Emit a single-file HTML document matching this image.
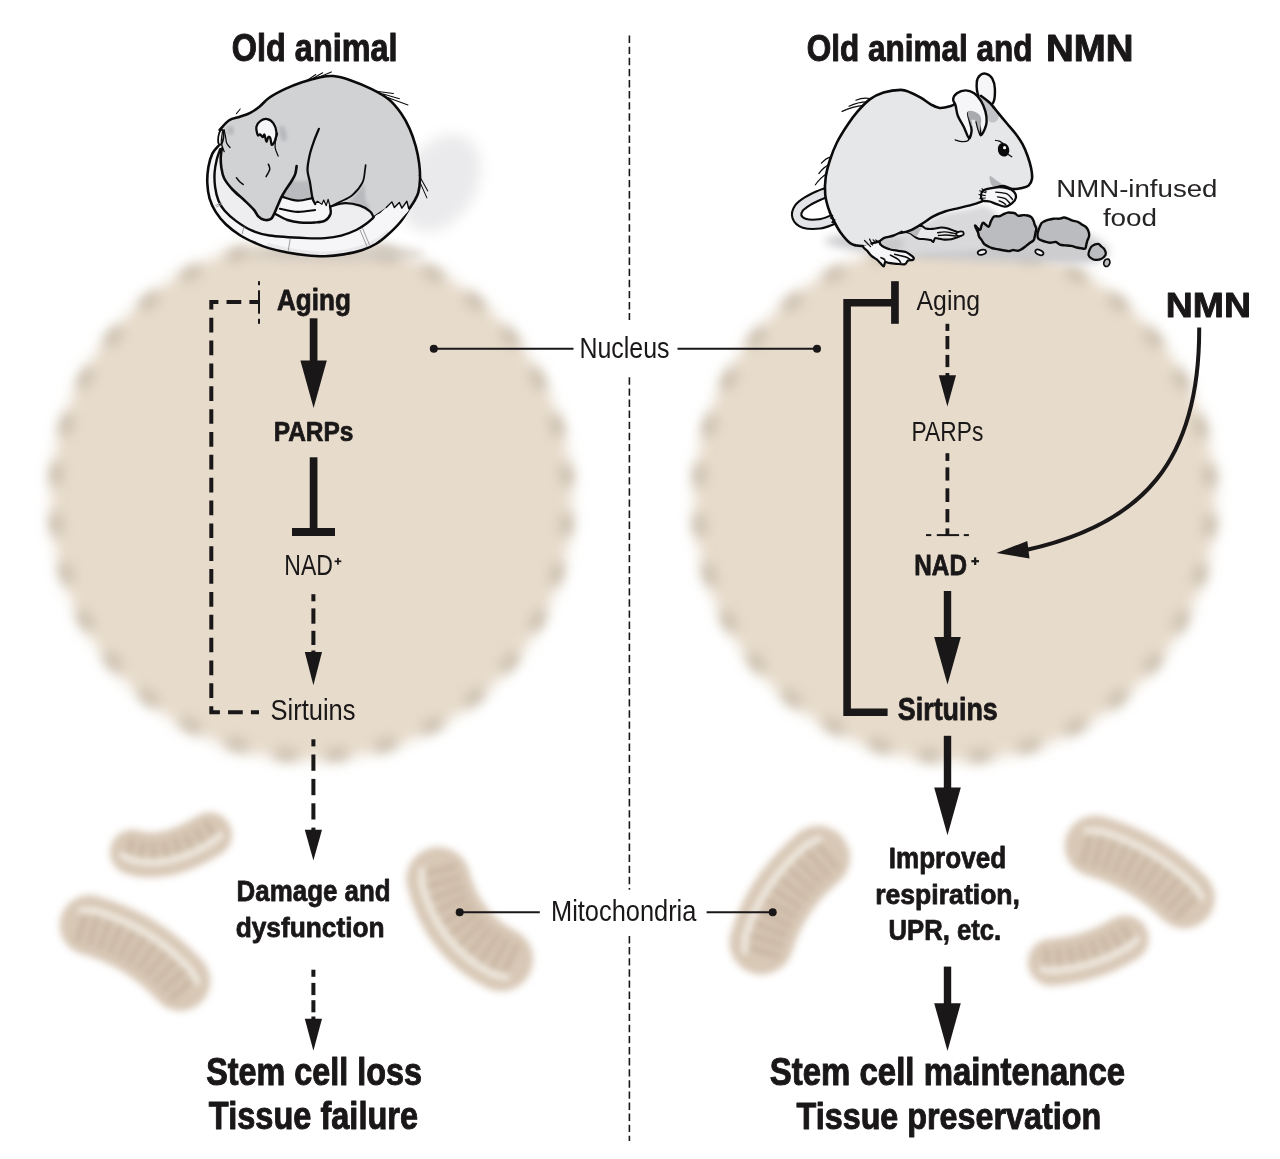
<!DOCTYPE html>
<html><head><meta charset="utf-8"><title>NMN diagram</title>
<style>
html,body{margin:0;padding:0;background:#fff;}
svg text{opacity:0.999} svg{display:block;font-family:"Liberation Sans",sans-serif;}
</style></head><body>
<svg width="1280" height="1159" viewBox="0 0 1280 1159">
<rect width="1280" height="1159" fill="#fff"/>
<defs>
<filter id="b8" filterUnits="userSpaceOnUse" x="0" y="0" width="1280" height="1159"><feGaussianBlur stdDeviation="7"/></filter>
<filter id="b5" filterUnits="userSpaceOnUse" x="0" y="0" width="1280" height="1159"><feGaussianBlur stdDeviation="5"/></filter>
<filter id="b3" filterUnits="userSpaceOnUse" x="0" y="0" width="1280" height="1159"><feGaussianBlur stdDeviation="3"/></filter>
<filter id="b2" filterUnits="userSpaceOnUse" x="0" y="0" width="1280" height="1159"><feGaussianBlur stdDeviation="2.2"/></filter>
<filter id="b12" filterUnits="userSpaceOnUse" x="0" y="0" width="1280" height="1159"><feGaussianBlur stdDeviation="9"/></filter>
<filter id="bm" filterUnits="userSpaceOnUse" x="-2000" y="-2000" width="6000" height="6000"><feGaussianBlur stdDeviation="40"/></filter>
<filter id="bs" filterUnits="userSpaceOnUse" x="-2000" y="-2000" width="6000" height="6000"><feGaussianBlur stdDeviation="10"/></filter>
<filter id="b4" filterUnits="userSpaceOnUse" x="0" y="0" width="1280" height="1159"><feGaussianBlur stdDeviation="3.8"/></filter>
<filter id="b7" filterUnits="userSpaceOnUse" x="0" y="0" width="1280" height="1159"><feGaussianBlur stdDeviation="6.5"/></filter>
</defs>
<circle cx="311.4" cy="499.5" r="260.5" fill="#e7dbcb" filter="url(#b8)"/>
<circle cx="311.4" cy="499.5" r="256.5" fill="none" stroke="#c5b9a8" stroke-width="11" stroke-dasharray="22 28.364" stroke-dashoffset="36.182" filter="url(#b7)"/>
<circle cx="954.7" cy="500.5" r="260.5" fill="#e7dbcb" filter="url(#b8)"/>
<circle cx="954.7" cy="500.5" r="256.5" fill="none" stroke="#c5b9a8" stroke-width="11" stroke-dasharray="22 28.364" stroke-dashoffset="36.182" filter="url(#b7)"/>
<path d="M132.5 852.2 Q165.8 862.5 209.5 834.8" fill="none" stroke="#d8c8b6" stroke-width="45" stroke-linecap="round" filter="url(#b4)"/>
<path d="M127.8 855.3L132.1 841.3M140.6 858.7L142.9 843.8M154.1 859.4L153.6 844.4M167.4 857.8L164.4 843.1M180.2 854.3L175.3 840.1M192.4 849.4L186.1 835.8M203.9 843.4L196.6 830.4M214.9 836.6L207.1 824.3" fill="none" stroke="#c8b6a2" stroke-width="6" stroke-linecap="round" filter="url(#b3)"/>
<path d="M122.2 855.3 L130.2 859.3 L131.5 859.7 L132.7 860.1 L134.0 860.4 L135.3 860.7 L136.6 861.0 L137.8 861.2 L139.1 861.5 L140.4 861.7 L141.7 861.8 L143.0 862.0 L144.3 862.1 L145.6 862.3 L147.0 862.3 L148.3 862.4 L149.6 862.5 L150.9 862.5 L152.3 862.5 L153.6 862.4 L155.0 862.4 L156.3 862.3 L157.7 862.2 L159.0 862.1 L160.4 862.0 L161.8 861.8 L163.1 861.6 L164.5 861.4 L165.9 861.2 L167.3 860.9 L168.7 860.6 L170.0 860.3 L171.4 860.0 L172.8 859.6 L174.2 859.3 L175.6 858.9 L177.1 858.5 L178.5 858.0 L179.9 857.6 L181.3 857.1 L182.7 856.6 L184.2 856.1 L185.6 855.5 L187.0 855.0 L188.5 854.4 L189.9 853.8 L191.3 853.2 L192.8 852.5 L194.3 851.8 L195.7 851.1 L197.2 850.4 L198.6 849.7 L200.1 848.9 L201.6 848.1 L203.1 847.3 L204.6 846.5 L206.0 845.7 L207.5 844.8 L209.0 843.9 L210.5 843.0 L212.0 842.1 L213.5 841.2 L220.3 835.1" fill="none" stroke="#f0eae1" stroke-width="7" stroke-linecap="round" stroke-linejoin="round" filter="url(#b3)"/>
<path d="M89.7 925.1 Q143.8 940.4 180.3 980.9" fill="none" stroke="#d8c8b6" stroke-width="60" stroke-linecap="round" filter="url(#b4)"/>
<path d="M86.0 912.2L78.2 939.6M98.2 915.0L89.3 943.7M110.4 919.2L99.8 947.3M122.4 924.1L110.1 951.5M134.0 929.8L120.0 956.4M145.3 936.3L129.6 961.8M156.2 943.4L138.8 967.9M166.5 951.3L147.6 974.6M176.3 959.8L155.9 981.8M185.5 968.9L163.8 989.6M193.5 978.6L172.3 997.7" fill="none" stroke="#c8b6a2" stroke-width="6" stroke-linecap="round" filter="url(#b3)"/>
<path d="M81.5 910.3 L93.8 910.6 L95.7 911.2 L97.6 911.7 L99.5 912.3 L101.4 912.9 L103.3 913.5 L105.2 914.2 L107.1 914.8 L108.9 915.5 L110.8 916.2 L112.6 916.9 L114.4 917.6 L116.2 918.3 L118.1 919.0 L119.9 919.8 L121.6 920.5 L123.4 921.3 L125.2 922.1 L126.9 922.9 L128.7 923.8 L130.4 924.6 L132.2 925.5 L133.9 926.4 L135.6 927.3 L137.3 928.2 L139.0 929.1 L140.7 930.0 L142.3 931.0 L144.0 932.0 L145.6 932.9 L147.3 933.9 L148.9 934.9 L150.5 936.0 L152.1 937.0 L153.7 938.1 L155.3 939.2 L156.9 940.3 L158.4 941.4 L160.0 942.5 L161.5 943.6 L163.1 944.8 L164.6 945.9 L166.1 947.1 L167.6 948.3 L169.1 949.5 L170.6 950.7 L172.0 952.0 L173.5 953.2 L175.0 954.5 L176.4 955.8 L177.8 957.1 L179.2 958.4 L180.6 959.7 L182.0 961.1 L183.4 962.5 L184.8 963.8 L186.1 965.2 L187.5 966.6 L188.8 968.0 L190.1 969.5 L191.4 970.9 L197.2 981.8" fill="none" stroke="#f0eae1" stroke-width="7" stroke-linecap="round" stroke-linejoin="round" filter="url(#b3)"/>
<path d="M438.3 879.1 Q452.5 934.8 501.1 959.3" fill="none" stroke="#d8c8b6" stroke-width="64" stroke-linecap="round" filter="url(#b4)"/>
<path d="M423.5 874.6L454.6 866.7M425.9 886.9L458.6 877.7M430.0 899.5L461.9 887.6M435.3 911.9L465.9 897.0M441.8 923.7L470.8 905.9M449.5 934.9L476.4 914.1M458.5 945.3L482.9 921.7M468.4 954.6L490.2 928.5M479.3 962.7L498.3 934.5M490.8 969.7L507.0 939.8M502.3 974.7L516.8 946.0" fill="none" stroke="#c8b6a2" stroke-width="6" stroke-linecap="round" filter="url(#b3)"/>
<path d="M422.0 870.2 L421.8 883.3 L422.3 885.4 L422.9 887.4 L423.5 889.4 L424.1 891.4 L424.7 893.4 L425.4 895.4 L426.0 897.3 L426.7 899.3 L427.4 901.2 L428.2 903.1 L428.9 905.0 L429.7 906.8 L430.5 908.7 L431.3 910.5 L432.2 912.3 L433.1 914.1 L434.0 915.9 L434.9 917.7 L435.8 919.4 L436.8 921.2 L437.8 922.9 L438.8 924.6 L439.8 926.3 L440.9 927.9 L442.0 929.6 L443.1 931.2 L444.2 932.8 L445.4 934.4 L446.5 935.9 L447.7 937.5 L448.9 939.0 L450.2 940.5 L451.4 942.0 L452.7 943.5 L454.0 944.9 L455.4 946.4 L456.7 947.8 L458.1 949.2 L459.5 950.5 L460.9 951.9 L462.3 953.2 L463.8 954.5 L465.3 955.8 L466.8 957.1 L468.3 958.3 L469.8 959.5 L471.4 960.7 L473.0 961.9 L474.6 963.1 L476.2 964.2 L477.8 965.3 L479.5 966.4 L481.2 967.5 L482.9 968.6 L484.6 969.6 L486.3 970.6 L488.1 971.6 L489.9 972.6 L491.7 973.5 L493.5 974.5 L506.3 977.1" fill="none" stroke="#f0eae1" stroke-width="7" stroke-linecap="round" stroke-linejoin="round" filter="url(#b3)"/>
<path d="M818.0 857.7 Q775.8 893.1 761.5 942.5" fill="none" stroke="#d8c8b6" stroke-width="64" stroke-linecap="round" filter="url(#b4)"/>
<path d="M815.7 842.4L836.3 866.9M805.9 849.6L828.2 875.3M796.5 858.3L820.3 882.6M787.6 867.6L812.9 890.3M779.3 877.5L806.1 898.5M771.7 888.0L799.9 907.0M764.8 899.0L794.3 916.0M758.8 910.5L789.4 925.3M753.6 922.4L785.2 934.9M749.2 934.6L781.7 944.8M746.5 946.6L777.3 955.6" fill="none" stroke="#c8b6a2" stroke-width="6" stroke-linecap="round" filter="url(#b3)"/>
<path d="M819.0 839.1 L807.1 844.6 L805.6 845.9 L804.1 847.2 L802.6 848.5 L801.1 849.8 L799.7 851.1 L798.3 852.5 L796.8 853.8 L795.4 855.2 L794.1 856.5 L792.7 857.9 L791.3 859.3 L790.0 860.6 L788.7 862.0 L787.4 863.4 L786.1 864.9 L784.8 866.3 L783.5 867.7 L782.3 869.1 L781.1 870.6 L779.9 872.1 L778.7 873.5 L777.5 875.0 L776.3 876.5 L775.2 878.0 L774.0 879.5 L772.9 881.0 L771.8 882.5 L770.8 884.1 L769.7 885.6 L768.7 887.2 L767.6 888.7 L766.6 890.3 L765.6 891.9 L764.6 893.5 L763.7 895.1 L762.7 896.7 L761.8 898.3 L760.9 899.9 L760.0 901.6 L759.1 903.2 L758.3 904.8 L757.4 906.5 L756.6 908.2 L755.8 909.9 L755.0 911.5 L754.2 913.2 L753.4 914.9 L752.7 916.6 L752.0 918.4 L751.3 920.1 L750.6 921.8 L749.9 923.6 L749.3 925.3 L748.6 927.1 L748.0 928.8 L747.4 930.6 L746.8 932.4 L746.2 934.2 L745.7 936.0 L745.1 937.8 L744.9 950.9" fill="none" stroke="#f0eae1" stroke-width="7" stroke-linecap="round" stroke-linejoin="round" filter="url(#b3)"/>
<path d="M1095.2 846.0 Q1145.1 859.8 1184.3 898.0" fill="none" stroke="#d8c8b6" stroke-width="61" stroke-linecap="round" filter="url(#b4)"/>
<path d="M1091.2 832.6L1083.4 860.9M1103.1 835.3L1094.2 865.0M1115.1 839.3L1104.4 868.4M1126.9 844.0L1114.4 872.4M1138.3 849.4L1124.2 877.0M1149.4 855.5L1133.7 882.2M1160.1 862.3L1142.8 888.0M1170.4 869.6L1151.7 894.3M1180.2 877.4L1160.2 901.1M1189.6 885.8L1168.4 908.4M1197.9 894.7L1177.4 915.7" fill="none" stroke="#c8b6a2" stroke-width="6" stroke-linecap="round" filter="url(#b3)"/>
<path d="M1086.9 830.8 L1099.4 831.1 L1101.1 831.6 L1102.9 832.1 L1104.7 832.6 L1106.5 833.2 L1108.2 833.7 L1110.0 834.3 L1111.7 834.9 L1113.5 835.5 L1115.2 836.1 L1116.9 836.8 L1118.7 837.4 L1120.4 838.1 L1122.1 838.7 L1123.8 839.4 L1125.5 840.1 L1127.2 840.9 L1128.9 841.6 L1130.6 842.4 L1132.2 843.1 L1133.9 843.9 L1135.6 844.7 L1137.2 845.5 L1138.9 846.3 L1140.5 847.2 L1142.1 848.0 L1143.8 848.9 L1145.4 849.8 L1147.0 850.7 L1148.6 851.6 L1150.2 852.5 L1151.8 853.5 L1153.4 854.4 L1155.0 855.4 L1156.6 856.4 L1158.1 857.4 L1159.7 858.4 L1161.2 859.4 L1162.8 860.4 L1164.3 861.5 L1165.9 862.6 L1167.4 863.6 L1168.9 864.7 L1170.4 865.9 L1171.9 867.0 L1173.4 868.1 L1174.9 869.3 L1176.4 870.4 L1177.9 871.6 L1179.4 872.8 L1180.8 874.0 L1182.3 875.3 L1183.7 876.5 L1185.2 877.7 L1186.6 879.0 L1188.0 880.3 L1189.5 881.6 L1190.9 882.9 L1192.3 884.2 L1193.7 885.5 L1195.1 886.9 L1201.6 897.5" fill="none" stroke="#f0eae1" stroke-width="7" stroke-linecap="round" stroke-linejoin="round" filter="url(#b3)"/>
<path d="M1051.3 962.2 Q1090.1 960.0 1125.3 938.7" fill="none" stroke="#d8c8b6" stroke-width="47" stroke-linecap="round" filter="url(#b4)"/>
<path d="M1047.5 967.8L1046.5 951.3M1060.1 967.0L1058.2 950.1M1072.8 965.0L1069.6 948.4M1085.3 962.1L1080.7 945.7M1097.5 958.2L1091.7 942.2M1109.3 953.3L1102.3 937.9M1120.8 947.6L1112.7 932.7M1131.6 941.1L1123.1 927.0" fill="none" stroke="#c8b6a2" stroke-width="6" stroke-linecap="round" filter="url(#b3)"/>
<path d="M1042.4 969.5 L1051.8 970.7 L1053.2 970.6 L1054.5 970.5 L1055.9 970.4 L1057.2 970.3 L1058.6 970.1 L1059.9 970.0 L1061.3 969.9 L1062.6 969.7 L1064.0 969.5 L1065.3 969.3 L1066.7 969.1 L1068.0 968.9 L1069.4 968.7 L1070.7 968.5 L1072.0 968.2 L1073.4 968.0 L1074.7 967.7 L1076.0 967.5 L1077.3 967.2 L1078.7 966.9 L1080.0 966.6 L1081.3 966.2 L1082.6 965.9 L1083.9 965.6 L1085.2 965.2 L1086.6 964.9 L1087.9 964.5 L1089.2 964.1 L1090.5 963.7 L1091.8 963.3 L1093.1 962.9 L1094.4 962.5 L1095.7 962.0 L1097.0 961.6 L1098.2 961.1 L1099.5 960.6 L1100.8 960.1 L1102.1 959.6 L1103.4 959.1 L1104.7 958.6 L1105.9 958.1 L1107.2 957.6 L1108.5 957.0 L1109.7 956.4 L1111.0 955.9 L1112.3 955.3 L1113.5 954.7 L1114.8 954.1 L1116.0 953.5 L1117.3 952.8 L1118.5 952.2 L1119.8 951.6 L1121.0 950.9 L1122.3 950.2 L1123.5 949.5 L1124.8 948.9 L1126.0 948.2 L1127.2 947.4 L1128.5 946.7 L1129.7 946.0 L1136.8 939.7" fill="none" stroke="#f0eae1" stroke-width="7" stroke-linecap="round" stroke-linejoin="round" filter="url(#b3)"/>
<ellipse cx="440" cy="183" rx="36" ry="52" fill="#eaeaec" filter="url(#b8)" transform="rotate(30 440 183)"/>
<ellipse cx="335" cy="254" rx="90" ry="9" fill="#cfc8bf" filter="url(#b5)" opacity="0.7"/>
<g transform="translate(195 65) scale(0.17256)" stroke-linecap="round" stroke-linejoin="round">
<path d="M136.2 468.1C130.2 475.7 110.2 493.0 100.5 513.6C90.7 534.2 82.6 563.4 77.7 591.6C72.9 619.7 70.1 652.2 71.2 682.5C72.3 712.9 76.1 745.3 84.2 773.5C92.3 801.6 104.3 826.5 120.0 851.5C135.7 876.4 154.6 900.2 178.4 922.9C202.3 945.7 233.7 969.5 262.9 987.9C292.1 1006.3 326.4 1021.1 353.9 1033.4C381.3 1045.6 397.0 1052.4 427.4 1061.2C457.7 1070.1 499.8 1079.7 536.0 1086.6C572.2 1093.5 608.5 1098.9 644.7 1102.5C680.9 1106.2 717.1 1109.2 753.3 1108.3C789.6 1107.5 825.8 1103.5 862.0 1097.5C898.2 1091.4 939.3 1082.4 970.7 1072.1C1002.1 1061.9 1026.2 1050.4 1050.3 1035.9C1074.5 1021.4 1092.6 1005.7 1115.5 985.2C1138.5 964.7 1166.2 939.3 1188.0 912.7C1209.7 886.2 1236.3 840.3 1245.9 825.8L1108 826L600 600L200 450Z" fill="#eeeef0" stroke="none"/>
<path d="M136.2 468.1C130.2 475.7 110.2 493.0 100.5 513.6C90.7 534.2 82.6 563.4 77.7 591.6C72.9 619.7 70.1 652.2 71.2 682.5C72.3 712.9 76.1 745.3 84.2 773.5C92.3 801.6 104.3 826.5 120.0 851.5C135.7 876.4 154.6 900.2 178.4 922.9C202.3 945.7 233.7 969.5 262.9 987.9C292.1 1006.3 326.4 1021.1 353.9 1033.4C381.3 1045.6 397.0 1052.4 427.4 1061.2C457.7 1070.1 499.8 1079.7 536.0 1086.6C572.2 1093.5 608.5 1098.9 644.7 1102.5C680.9 1106.2 717.1 1109.2 753.3 1108.3C789.6 1107.5 825.8 1103.5 862.0 1097.5C898.2 1091.4 939.3 1082.4 970.7 1072.1C1002.1 1061.9 1026.2 1050.4 1050.3 1035.9C1074.5 1021.4 1092.6 1005.7 1115.5 985.2C1138.5 964.7 1166.2 939.3 1188.0 912.7C1209.7 886.2 1236.3 840.3 1245.9 825.8L1108.3 825.8C1104.7 828.2 1097.4 831.9 1086.6 840.3C1075.7 848.8 1058.8 863.2 1043.1 876.5C1027.4 889.8 1010.5 906.7 992.4 920.0C974.3 933.3 958.6 944.7 934.4 956.2C910.3 967.7 877.7 981.0 847.5 988.8C817.3 996.7 787.1 1000.9 753.3 1003.3C719.5 1005.7 698.3 1005.9 644.7 1003.3C591.1 1000.7 484.6 995.3 431.8 987.9C379.0 980.5 360.3 972.7 327.9 958.7C295.4 944.6 262.9 922.4 236.9 903.4C210.9 884.5 188.7 864.4 171.9 845.0C155.2 825.5 145.4 809.2 136.2 786.5C127.0 763.7 120.5 735.6 116.7 708.5C112.9 681.4 111.8 651.1 113.5 624.1C115.1 597.0 121.0 568.8 126.5 546.1C131.9 523.4 142.7 497.4 145.9 487.6Z" fill="#f6f6f8" stroke="none"/>
<path d="M427.4 1043.1C445.5 1047.6 499.8 1062.7 536.0 1069.9C572.2 1077.2 608.5 1082.9 644.7 1086.6C680.9 1090.3 717.1 1093.4 753.3 1092.4C789.6 1091.4 825.8 1087.2 862.0 1080.8C898.2 1074.4 939.3 1064.5 970.7 1054.0C1002.1 1043.5 1026.2 1031.9 1050.3 1017.8C1074.5 1003.7 1104.7 977.3 1115.5 969.3" fill="none" stroke="#e9e9ec" stroke-width="22"/>
<path d="M136.2 468.1C130.2 475.7 110.2 493.0 100.5 513.6C90.7 534.2 82.6 563.4 77.7 591.6C72.9 619.7 70.1 652.2 71.2 682.5C72.3 712.9 76.1 745.3 84.2 773.5C92.3 801.6 104.3 826.5 120.0 851.5C135.7 876.4 154.6 900.2 178.4 922.9C202.3 945.7 233.7 969.5 262.9 987.9C292.1 1006.3 326.4 1021.1 353.9 1033.4C381.3 1045.6 397.0 1052.4 427.4 1061.2C457.7 1070.1 499.8 1079.7 536.0 1086.6C572.2 1093.5 608.5 1098.9 644.7 1102.5C680.9 1106.2 717.1 1109.2 753.3 1108.3C789.6 1107.5 825.8 1103.5 862.0 1097.5C898.2 1091.4 939.3 1082.4 970.7 1072.1C1002.1 1061.9 1026.2 1050.4 1050.3 1035.9C1074.5 1021.4 1092.6 1005.7 1115.5 985.2C1138.5 964.7 1166.2 939.3 1188.0 912.7C1209.7 886.2 1236.3 840.3 1245.9 825.8" fill="none" stroke="#0c0b0b" stroke-width="15"/>
<path d="M145.9 487.6C142.7 497.4 131.9 523.4 126.5 546.1C121.0 568.8 115.1 597.0 113.5 624.1C111.8 651.1 112.9 681.4 116.7 708.5C120.5 735.6 127.0 763.7 136.2 786.5C145.4 809.2 155.2 825.5 171.9 845.0C188.7 864.4 210.9 884.5 236.9 903.4C262.9 922.4 295.4 944.6 327.9 958.7C360.3 972.7 379.0 980.5 431.8 987.9C484.6 995.3 591.1 1000.7 644.7 1003.3C698.3 1005.9 719.5 1005.7 753.3 1003.3C787.1 1000.9 817.3 996.7 847.5 988.8C877.7 981.0 910.3 967.7 934.4 956.2C958.6 944.7 974.3 933.3 992.4 920.0C1010.5 906.7 1027.4 889.8 1043.1 876.5C1058.8 863.2 1075.7 848.8 1086.6 840.3C1097.4 831.9 1104.7 828.2 1108.3 825.8" fill="none" stroke="#0c0b0b" stroke-width="14"/>
<path d="M120 814L151 798" stroke="#8d8d90" stroke-width="5" fill="none"/>
<path d="M126 822L156 807" stroke="#8d8d90" stroke-width="5" fill="none"/>
<path d="M284 939L273 978" stroke="#8d8d90" stroke-width="5" fill="none"/>
<path d="M551 1011L540 1079" stroke="#8d8d90" stroke-width="5" fill="none"/>
<path d="M956 955L996 1050" stroke="#8d8d90" stroke-width="5" fill="none"/>
<path d="M972 948L1011 1042" stroke="#8d8d90" stroke-width="5" fill="none"/>
<path d="M143.0 376.0C152.2 366.7 178.5 332.7 198.0 320.0C217.5 307.3 239.7 307.0 260.0 300.0C280.3 293.0 300.8 288.0 320.0 278.0C339.2 268.0 356.7 254.7 375.0 240.0C393.3 225.3 405.8 206.7 430.0 190.0C454.2 173.3 488.3 155.0 520.0 140.0C551.7 125.0 586.7 111.3 620.0 100.0C653.3 88.7 690.0 78.0 720.0 72.0C750.0 66.0 770.0 61.3 800.0 64.0C830.0 66.7 862.7 75.3 900.0 88.0C937.3 100.7 986.7 121.3 1024.0 140.0C1061.3 158.7 1095.7 176.7 1124.0 200.0C1152.3 223.3 1174.0 251.7 1194.0 280.0C1214.0 308.3 1229.8 338.3 1244.0 370.0C1258.2 401.7 1269.8 436.7 1279.0 470.0C1288.2 503.3 1294.8 538.3 1299.0 570.0C1303.2 601.7 1304.8 631.7 1304.0 660.0C1303.2 688.3 1299.7 718.3 1294.0 740.0C1288.3 761.7 1278.0 775.7 1270.0 790.0C1262.0 804.3 1250.0 820.0 1246.0 826.0L1238.7 833.1L1227.8 789.6L1198.8 829.4L1184.4 796.8L1155.4 825.8L1140.9 793.2L1108.3 825.8L1032.2 876.5C1029.2 871.7 1026.8 857.8 1014.1 847.6C1001.4 837.3 980.3 822.8 956.2 815.0C932.0 807.1 897.0 799.9 869.2 800.5C841.5 801.1 802.8 815.6 789.6 818.6L782.3 818.6L771.5 778.7L760.6 815.0L746.1 782.4L735.2 807.7L709.9 789.6L695.4 804.1L680.9 771.5C678.5 756.4 671.2 708.1 666.4 680.9C661.6 653.8 654.3 620.6 651.9 608.5L586.7 608.5C581.9 620.6 571.0 655.0 557.8 680.9C544.5 706.9 522.7 735.3 507.0 764.2C491.3 793.2 472.0 836.1 463.6 854.8C455.1 873.5 464.8 869.3 456.3 876.5C447.9 883.8 428.6 897.1 412.9 898.3C397.2 899.5 377.9 897.1 362.2 883.8C346.5 870.5 325.9 829.4 318.7 818.6L366.8 877.4C362.5 870.9 353.9 853.6 340.9 838.5C327.9 823.3 309.5 806.0 288.9 786.5C268.3 767.0 237.4 743.2 217.4 721.5C197.4 699.9 179.5 678.2 168.7 656.5C157.9 634.9 155.7 612.1 152.4 591.6C149.2 571.0 148.7 551.0 149.2 533.1C149.7 515.2 154.6 492.5 155.7 484.4Z" fill="#d1d2d4" stroke="none"/>
<path d="M594.0 565.0C587.9 584.4 572.2 647.7 557.8 680.9C543.3 714.1 515.5 750.4 507.0 764.2L507.0 764.2C521.5 767.9 565.0 784.8 594.0 786.0C622.9 787.2 666.4 773.9 680.9 771.5L680.9 771.5C678.5 756.4 671.8 715.3 666.4 680.9C661.0 646.5 651.3 584.4 648.3 565.0Z" fill="#b9babd" stroke="none"/>
<path d="M572.2 550.5C589.1 533.6 642.3 533.6 659.2 550.5C676.1 567.5 682.1 631.4 673.7 652.0C665.2 672.5 627.8 673.7 608.5 673.7C589.1 673.7 563.8 672.5 557.8 652.0C551.7 631.4 555.3 567.5 572.2 550.5Z" fill="#d1d2d4" stroke="none" filter="url(#bs)"/>
<path d="M941.7 738.9C955.6 721.7 973.7 689.4 981.5 695.4C989.4 701.5 983.3 751.0 988.8 775.1C994.2 799.3 1019.6 833.7 1014.1 840.3C1008.7 846.9 975.5 822.0 956.2 815.0C936.9 808.0 900.6 811.0 898.2 798.3C895.8 785.6 927.8 756.0 941.7 738.9Z" fill="#b9babd" stroke="none" filter="url(#bs)"/>
<path d="M507.0 764.2C521.5 767.9 565.0 784.8 594.0 786.0C622.9 787.2 666.4 773.9 680.9 771.5L695.4 804.1L695.4 840.3L695.4 840.3C678.5 842.1 627.8 852.4 594.0 851.2C560.2 850.0 509.5 836.1 492.6 833.1Z" fill="#f6f6f8" stroke="none"/>
<path d="M492.6 833.1C509.5 836.1 560.2 850.0 594.0 851.2C627.8 852.4 678.5 842.1 695.4 840.3L695.4 804.1L709.9 789.6L735.2 807.7L746.1 782.4L760.6 815.0L771.5 778.7L782.3 818.6L782.3 818.6C782.9 825.8 790.8 848.2 785.9 862.0C781.1 875.9 768.4 893.4 753.3 901.9C738.2 910.3 719.5 910.9 695.4 912.7C671.2 914.6 635.0 915.2 608.5 912.7C581.9 910.3 560.2 906.7 536.0 898.3C511.9 889.8 475.7 868.1 463.6 862.0Z" fill="#f6f6f8" stroke="none"/>
<path d="M1238.7 833.1L1227.8 789.6L1198.8 829.4L1184.4 796.8L1155.4 825.8L1140.9 793.2L1108.3 825.8L1072.1 858.4C1067.2 861.7 1046.7 868.9 1043.1 878.0C1039.5 887.0 1038.3 900.9 1050.3 912.7C1062.4 924.6 1092.6 951.4 1115.5 949.0C1138.5 946.6 1166.9 916.6 1188.0 898.3C1209.1 879.9 1233.3 848.8 1242.3 838.9Z" fill="#f6f6f8" stroke="none"/>
<ellipse cx="510" cy="397" rx="22" ry="48" fill="#b9babd" transform="rotate(-12 510 397)" filter="url(#bs)"/>
<ellipse cx="206" cy="380" rx="20" ry="26" fill="#b9babd" filter="url(#bs)"/>
<path d="M143.0 376.0C152.2 366.7 178.5 332.7 198.0 320.0C217.5 307.3 239.7 307.0 260.0 300.0C280.3 293.0 300.8 288.0 320.0 278.0C339.2 268.0 356.7 254.7 375.0 240.0C393.3 225.3 405.8 206.7 430.0 190.0C454.2 173.3 488.3 155.0 520.0 140.0C551.7 125.0 586.7 111.3 620.0 100.0C653.3 88.7 690.0 78.0 720.0 72.0C750.0 66.0 770.0 61.3 800.0 64.0C830.0 66.7 862.7 75.3 900.0 88.0C937.3 100.7 986.7 121.3 1024.0 140.0C1061.3 158.7 1095.7 176.7 1124.0 200.0C1152.3 223.3 1174.0 251.7 1194.0 280.0C1214.0 308.3 1229.8 338.3 1244.0 370.0C1258.2 401.7 1269.8 436.7 1279.0 470.0C1288.2 503.3 1294.8 538.3 1299.0 570.0C1303.2 601.7 1304.8 631.7 1304.0 660.0C1303.2 688.3 1299.7 718.3 1294.0 740.0C1288.3 761.7 1278.0 775.7 1270.0 790.0C1262.0 804.3 1250.0 820.0 1246.0 826.0" fill="none" stroke="#0c0b0b" stroke-width="15"/>
<path d="M1238.7 833.1L1227.8 789.6L1198.8 829.4L1184.4 796.8L1155.4 825.8L1140.9 793.2L1108.3 825.8" fill="none" stroke="#0c0b0b" stroke-width="8"/>
<path d="M789.6 818.6C802.8 815.6 841.5 801.1 869.2 800.5C897.0 799.9 932.0 807.1 956.2 815.0C980.3 822.8 1001.4 837.3 1014.1 847.6C1026.8 857.8 1029.2 871.7 1032.2 876.5" fill="none" stroke="#0c0b0b" stroke-width="13"/>
<path d="M782.3 818.6L771.5 778.7L760.6 815.0L746.1 782.4L735.2 807.7L709.9 789.6L695.4 804.1" fill="none" stroke="#0c0b0b" stroke-width="7"/>
<path d="M507.0 764.2C521.5 767.9 565.0 784.8 594.0 786.0C622.9 787.2 666.4 773.9 680.9 771.5" fill="none" stroke="#0c0b0b" stroke-width="13"/>
<path d="M492.6 833.1C509.5 836.1 560.2 850.0 594.0 851.2C627.8 852.4 678.5 842.1 695.4 840.3" fill="none" stroke="#0c0b0b" stroke-width="13"/>
<path d="M463.6 862.0C475.7 868.1 511.9 889.8 536.0 898.3C560.2 906.7 581.9 910.3 608.5 912.7C635.0 915.2 671.2 914.6 695.4 912.7C719.5 910.9 738.2 910.3 753.3 901.9C768.4 893.4 781.1 875.9 785.9 862.0C790.8 848.2 782.9 825.8 782.3 818.6" fill="none" stroke="#0c0b0b" stroke-width="14"/>
<path d="M718.0 370.0C713.3 381.7 698.8 415.0 690.0 440.0C681.2 465.0 671.3 491.9 665.0 520.0C658.7 548.1 651.7 581.7 651.9 608.5C652.2 635.3 661.6 653.8 666.4 680.9C671.2 708.1 675.8 750.7 680.9 771.5C686.0 792.3 694.2 799.9 696.8 805.5" fill="none" stroke="#0c0b0b" stroke-width="13"/>
<path d="M155.7 484.4C154.6 492.5 149.7 515.2 149.2 533.1C148.7 551.0 149.2 571.0 152.4 591.6C155.7 612.1 157.9 634.9 168.7 656.5C179.5 678.2 197.4 699.9 217.4 721.5C237.4 743.2 268.3 767.0 288.9 786.5C309.5 806.0 327.9 823.3 340.9 838.5C353.9 853.6 357.1 867.7 366.8 877.4C376.6 887.2 387.4 894.2 399.3 896.9C411.2 899.6 428.6 899.1 438.3 893.7C448.1 888.3 451.3 876.9 457.8 864.4C464.3 852.0 470.3 835.2 477.3 819.0C484.3 802.7 492.5 782.2 500.0 767.0C507.6 751.8 512.5 744.3 522.8 728.0C533.1 711.8 552.0 685.8 561.8 669.5C571.5 653.3 576.7 644.6 581.2 630.6C585.8 616.5 587.7 592.7 589.0 585.1" fill="none" stroke="#0c0b0b" stroke-width="15"/>
<path d="M988.8 579.5C988.2 584.4 988.2 591.6 985.1 608.5C982.1 625.4 982.7 656.8 970.7 680.9C958.6 705.1 934.4 734.7 912.7 753.4C891.0 772.1 860.8 782.4 840.3 793.2C819.7 804.1 798.0 814.4 789.6 818.6" fill="none" stroke="#0c0b0b" stroke-width="10"/>
<path d="M363.6 406.4C360.1 399.0 353.1 371.4 355.8 357.7C358.5 343.9 369.3 331.3 379.8 323.9C390.3 316.5 406.4 311.1 418.8 313.5C431.3 315.9 445.7 325.4 454.6 338.2C463.4 351.0 470.7 373.4 472.1 390.2C473.5 407.0 467.5 426.8 463.0 438.9C458.5 451.0 449.1 465.1 444.8 462.9C440.5 460.8 440.3 433.7 437.0 425.9C433.8 418.1 429.2 413.2 425.3 416.2C421.4 419.1 417.4 445.6 413.6 443.4C409.8 441.3 406.0 407.5 402.6 403.2C399.1 398.8 397.2 417.7 392.8 417.5C388.5 417.2 381.5 403.7 376.6 401.9C371.7 400.0 367.1 413.8 363.6 406.4Z" fill="#f6f6f8" stroke="#0c0b0b" stroke-width="13"/>
<path d="M478.6 396.7C476.4 405.3 467.8 434.0 465.6 448.6C463.4 463.3 462.9 471.2 465.6 484.4C468.3 497.6 479.1 520.6 481.8 527.9" fill="none" stroke="#0c0b0b" stroke-width="7"/>
<ellipse cx="150" cy="419" rx="15" ry="44" fill="#f6f6f8" stroke="#0c0b0b" stroke-width="10" transform="rotate(8 150 419)"/>
<path d="M168.7 373.9C170.1 381.0 174.6 403.2 177.1 416.2C179.6 429.1 179.3 441.4 183.6 451.9C188.0 462.4 199.9 474.6 203.1 479.2" fill="none" stroke="#0c0b0b" stroke-width="7"/>
<path d="M160.9 377.2C159.5 389.1 151.0 427.8 152.4 448.6C153.9 469.4 166.5 493.0 169.3 501.9" fill="none" stroke="#0c0b0b" stroke-width="7"/>
<path d="M425.3 575.3C426.6 580.2 435.3 592.7 433.1 604.6C430.9 616.5 415.8 639.8 412.3 646.8" fill="none" stroke="#0c0b0b" stroke-width="9"/>
<path d="M240.2 653.3C243.1 656.9 251.2 668.2 257.7 674.7C264.2 681.2 275.6 689.4 279.1 692.3" fill="none" stroke="#0c0b0b" stroke-width="9"/>
<path d="M240 282L262 255" stroke="#0c0b0b" stroke-width="6" fill="none"/>
<path d="M640 95L700 55" stroke="#0c0b0b" stroke-width="6" fill="none"/>
<path d="M665 88L740 45" stroke="#0c0b0b" stroke-width="6" fill="none"/>
<path d="M690 82L790 40" stroke="#0c0b0b" stroke-width="6" fill="none"/>
<path d="M1050 152L1150 165" stroke="#0c0b0b" stroke-width="6" fill="none"/>
<path d="M1090 168L1185 195" stroke="#0c0b0b" stroke-width="6" fill="none"/>
<path d="M1120 190L1234 232" stroke="#0c0b0b" stroke-width="6" fill="none"/>
<path d="M1299 640L1349 730" stroke="#0c0b0b" stroke-width="6" fill="none"/>
<path d="M1304 680L1344 770" stroke="#0c0b0b" stroke-width="6" fill="none"/>
</g>
<ellipse cx="962" cy="248" rx="138" ry="12" fill="#c8c8cb" filter="url(#b5)" transform="rotate(3 962 248)"/>
<ellipse cx="1060" cy="243" rx="50" ry="16" fill="#cdcdd0" filter="url(#b5)" transform="rotate(12 1060 243)"/>
<path d="M905 232 L940 214 L985 205 L1000 215 L985 232 L985 250 L900 255Z" fill="#d9d9dc" filter="url(#b3)"/>
<g transform="translate(780 70) scale(0.17256)" stroke-linecap="round" stroke-linejoin="round">
<path d="M305.0 868.0C292.5 872.0 257.5 888.7 230.0 892.0C202.5 895.3 162.0 895.0 140.0 888.0C118.0 881.0 103.0 864.7 98.0 850.0C93.0 835.3 99.7 815.0 110.0 800.0C120.3 785.0 140.0 772.5 160.0 760.0C180.0 747.5 210.8 733.7 230.0 725.0C249.2 716.3 267.5 710.8 275.0 708.0" fill="none" stroke="#0c0b0b" stroke-width="66"/>
<path d="M305.0 868.0C292.5 872.0 257.5 888.7 230.0 892.0C202.5 895.3 162.0 895.0 140.0 888.0C118.0 881.0 103.0 864.7 98.0 850.0C93.0 835.3 99.7 815.0 110.0 800.0C120.3 785.0 140.0 772.5 160.0 760.0C180.0 747.5 210.8 733.7 230.0 725.0C249.2 716.3 267.5 710.8 275.0 708.0" fill="none" stroke="#e3e4e7" stroke-width="42"/>
<path d="M1150.4 150.0C1141.2 128.3 1138.7 90.0 1140.4 70.0C1142.1 50.0 1151.2 38.0 1160.4 30.0C1169.6 22.0 1183.7 18.7 1195.4 22.0C1207.1 25.3 1222.1 35.3 1230.4 50.0C1238.7 64.7 1244.6 86.7 1245.4 110.0C1246.2 133.3 1243.7 175.0 1235.4 190.0C1227.1 205.0 1209.6 206.7 1195.4 200.0C1181.2 193.3 1159.6 171.7 1150.4 150.0Z" fill="#f6f6f8" stroke="#0c0b0b" stroke-width="14"/>
<path d="M480.3 1020.2C477.0 1026.9 498.6 1040.0 505.2 1047.6C511.9 1055.2 522.8 1070.8 530.1 1077.5C537.5 1084.1 553.4 1092.1 560.0 1097.4C566.7 1102.7 574.5 1111.9 580.0 1117.3C585.4 1122.8 596.9 1138.9 600.9 1138.2C604.9 1137.6 606.0 1115.0 609.8 1112.3C613.7 1109.7 621.1 1116.9 629.8 1118.3C638.4 1119.8 662.0 1122.4 674.6 1123.3C687.2 1124.2 715.4 1127.9 724.4 1125.3C733.3 1122.6 735.8 1106.7 741.8 1103.4C747.8 1100.1 764.7 1102.2 769.2 1100.4C773.6 1098.6 775.8 1093.0 775.2 1089.9C774.5 1086.9 770.3 1082.1 764.2 1077.5C758.1 1072.8 740.0 1059.1 729.3 1055.1C718.7 1051.1 696.5 1049.6 684.5 1047.6C672.6 1045.6 650.3 1042.8 639.7 1040.1C629.1 1037.5 612.8 1032.0 604.8 1027.7C596.9 1023.4 583.9 1012.4 580.0 1007.8C576.0 1003.1 581.6 994.1 575.0 992.8C568.3 991.5 542.8 994.1 530.1 997.8C517.5 1001.5 483.7 1013.6 480.3 1020.2Z" fill="#f6f6f8" stroke="#0c0b0b" stroke-width="13"/>
<path d="M639.7 1072.5C647.2 1076.7 674.6 1089.9 684.5 1097.4C694.5 1104.9 697.0 1114.0 699.5 1117.3" stroke="#0c0b0b" stroke-width="9" fill="none"/>
<path d="M664.6 1067.5C674.6 1070.0 709.4 1077.5 724.4 1082.5C739.3 1087.4 749.3 1094.9 754.2 1097.4" stroke="#0c0b0b" stroke-width="9" fill="none"/>
<path d="M584.9 1087.4C588.2 1089.1 600.7 1093.2 604.8 1097.4C609.0 1101.6 609.0 1109.9 609.8 1112.3" stroke="#0c0b0b" stroke-width="9" fill="none"/>
<path d="M729.3 935.6C728.0 940.5 746.9 941.2 754.2 945.5C761.6 949.8 777.5 963.6 784.1 967.9C790.8 972.2 796.1 976.2 804.0 977.9C812.0 979.5 834.6 979.4 843.9 980.4C853.2 981.4 867.8 983.2 873.8 985.4C879.7 987.5 885.4 998.3 888.7 996.8C892.0 995.3 894.0 976.4 898.7 973.9C903.3 971.4 916.3 976.7 923.6 977.9C930.9 979.1 944.2 982.5 953.4 982.9C962.7 983.2 983.3 982.2 993.3 980.4C1003.2 978.5 1020.2 972.0 1028.2 968.9C1036.1 965.8 1050.7 960.1 1053.0 957.0C1055.4 953.8 1050.9 948.7 1045.6 945.5C1040.3 942.3 1022.8 936.7 1013.2 933.1C1003.6 929.4 984.0 920.8 973.4 918.1C962.7 915.5 945.5 912.8 933.5 913.1C921.6 913.5 895.7 919.9 883.7 920.6C871.8 921.3 852.5 920.4 843.9 918.1C835.3 915.8 829.6 904.5 819.0 903.2C808.4 901.9 776.2 903.8 764.2 908.2C752.3 912.5 730.7 930.6 729.3 935.6Z" fill="#e9e9eb" stroke="#0c0b0b" stroke-width="12"/>
<path d="M739.3 933.1C747.3 928.4 809.7 913.1 819.0 913.1C828.3 913.1 811.7 927.7 809.0 933.1C806.4 938.4 802.1 948.7 799.1 953.0C796.1 957.3 791.9 966.1 786.6 965.4C781.3 964.8 765.5 952.3 759.2 948.0C752.9 943.7 731.3 937.7 739.3 933.1Z" fill="#b9babd" stroke="none"/>
<path d="M913.6 943.0C920.2 942.2 938.5 937.6 953.4 938.0C968.4 938.5 990.0 943.0 1003.2 945.5C1016.5 948.0 1028.2 951.7 1033.1 953.0" stroke="#0c0b0b" stroke-width="8" fill="none"/>
<path d="M918.6 959.0C926.1 958.5 946.8 955.5 963.4 956.0C980.0 956.5 1009.1 960.9 1018.2 961.9" stroke="#0c0b0b" stroke-width="8" fill="none"/>
<path d="M480.3 1020.2C474.5 1019.8 457.9 1020.6 445.5 1017.7C433.0 1014.8 421.6 1015.7 405.6 1002.8C389.7 989.8 365.9 962.1 350.0 940.0C334.1 917.9 321.7 893.3 310.0 870.0C298.3 846.7 288.0 825.0 280.0 800.0C272.0 775.0 264.5 750.0 262.0 720.0C259.5 690.0 260.3 653.3 265.0 620.0C269.7 586.7 279.2 553.3 290.0 520.0C300.8 486.7 313.3 453.3 330.0 420.0C346.7 386.7 370.0 350.0 390.0 320.0C410.0 290.0 428.3 265.0 450.0 240.0C471.7 215.0 495.0 188.3 520.0 170.0C545.0 151.7 570.0 139.2 600.0 130.0C630.0 120.8 674.1 115.0 700.0 115.0C725.9 115.0 736.2 122.5 755.4 130.0C774.6 137.5 795.4 148.3 815.4 160.0C835.4 171.7 857.1 190.0 875.4 200.0C893.7 210.0 907.1 218.3 925.4 220.0C943.7 221.7 968.7 215.0 985.4 210.0C1002.1 205.0 1018.7 193.3 1025.4 190.0L1165.4 150.0C1173.7 156.7 1198.7 173.3 1215.4 190.0C1232.1 206.7 1248.7 230.0 1265.4 250.0C1282.1 270.0 1298.7 290.0 1315.4 310.0C1332.1 330.0 1350.4 350.0 1365.4 370.0C1380.4 390.0 1393.7 408.3 1405.4 430.0C1417.1 451.7 1427.1 476.7 1435.4 500.0C1443.7 523.3 1451.2 548.3 1455.4 570.0C1459.6 591.7 1462.9 613.3 1460.4 630.0C1457.9 646.7 1451.2 660.8 1440.4 670.0C1429.6 679.2 1411.2 681.7 1395.4 685.0C1379.6 688.3 1353.7 689.2 1345.4 690.0L1295.4 672.0C1288.7 673.3 1268.7 675.3 1255.4 680.0C1242.1 684.7 1222.1 696.7 1215.4 700.0L1175.4 760.0C1165.4 763.3 1138.7 773.3 1115.4 780.0C1092.1 786.7 1062.1 793.3 1035.4 800.0C1008.7 806.7 980.4 811.7 955.4 820.0C930.4 828.3 907.1 838.3 885.4 850.0C863.7 861.7 847.1 876.7 825.4 890.0C803.7 903.3 777.1 920.8 755.4 930.0C733.7 939.2 703.9 943.7 695.4 945.0C686.9 946.3 711.2 935.5 704.5 938.0C697.7 940.6 671.2 954.6 654.6 960.5C638.0 966.3 618.1 967.5 604.8 972.9C591.6 978.3 587.4 987.4 575.0 992.8C562.5 998.2 537.6 1003.2 530.1 1005.3Z" fill="#e6e7e9" stroke="none"/>
<path d="M1165.4 160.0C1170.4 152.5 1198.7 179.2 1215.4 195.0C1232.1 210.8 1258.7 238.3 1265.4 255.0C1272.1 271.7 1263.7 287.5 1255.4 295.0C1247.1 302.5 1227.1 309.2 1215.4 300.0C1203.7 290.8 1193.7 263.3 1185.4 240.0C1177.1 216.7 1160.4 167.5 1165.4 160.0Z" fill="#c3c4c7" stroke="none"/>
<path d="M1215.4 615.0C1219.6 609.7 1243.7 631.7 1255.4 640.0C1267.1 648.3 1289.6 659.7 1285.4 665.0C1281.2 670.3 1242.1 680.3 1230.4 672.0C1218.7 663.7 1211.2 620.3 1215.4 615.0Z" fill="#b3b4b7" stroke="none"/>
<path d="M480.3 1020.2C474.5 1019.8 457.9 1020.6 445.5 1017.7C433.0 1014.8 421.6 1015.7 405.6 1002.8C389.7 989.8 365.9 962.1 350.0 940.0C334.1 917.9 321.7 893.3 310.0 870.0C298.3 846.7 288.0 825.0 280.0 800.0C272.0 775.0 264.5 750.0 262.0 720.0C259.5 690.0 260.3 653.3 265.0 620.0C269.7 586.7 279.2 553.3 290.0 520.0C300.8 486.7 313.3 453.3 330.0 420.0C346.7 386.7 370.0 350.0 390.0 320.0C410.0 290.0 428.3 265.0 450.0 240.0C471.7 215.0 495.0 188.3 520.0 170.0C545.0 151.7 570.0 139.2 600.0 130.0C630.0 120.8 674.1 115.0 700.0 115.0C725.9 115.0 736.2 122.5 755.4 130.0C774.6 137.5 795.4 148.3 815.4 160.0C835.4 171.7 857.1 190.0 875.4 200.0C893.7 210.0 907.1 218.3 925.4 220.0C943.7 221.7 968.7 215.0 985.4 210.0C1002.1 205.0 1018.7 193.3 1025.4 190.0" fill="none" stroke="#0c0b0b" stroke-width="15"/>
<path d="M1165.4 150.0C1173.7 156.7 1198.7 173.3 1215.4 190.0C1232.1 206.7 1248.7 230.0 1265.4 250.0C1282.1 270.0 1298.7 290.0 1315.4 310.0C1332.1 330.0 1350.4 350.0 1365.4 370.0C1380.4 390.0 1393.7 408.3 1405.4 430.0C1417.1 451.7 1427.1 476.7 1435.4 500.0C1443.7 523.3 1451.2 548.3 1455.4 570.0C1459.6 591.7 1462.9 613.3 1460.4 630.0C1457.9 646.7 1451.2 660.8 1440.4 670.0C1429.6 679.2 1411.2 681.7 1395.4 685.0C1379.6 688.3 1362.1 692.2 1345.4 690.0C1328.7 687.8 1310.4 673.7 1295.4 672.0C1280.4 670.3 1268.7 675.3 1255.4 680.0C1242.1 684.7 1222.1 696.7 1215.4 700.0" fill="none" stroke="#0c0b0b" stroke-width="15"/>
<path d="M1175.4 760.0C1165.4 763.3 1138.7 773.3 1115.4 780.0C1092.1 786.7 1062.1 793.3 1035.4 800.0C1008.7 806.7 980.4 811.7 955.4 820.0C930.4 828.3 907.1 838.3 885.4 850.0C863.7 861.7 847.1 876.7 825.4 890.0C803.7 903.3 777.1 920.8 755.4 930.0C733.7 939.2 703.9 943.7 695.4 945.0C686.9 946.3 711.2 935.5 704.5 938.0C697.7 940.6 671.2 954.6 654.6 960.5C638.0 966.3 618.1 967.5 604.8 972.9C591.6 978.3 587.4 987.4 575.0 992.8C562.5 998.2 537.6 1003.2 530.1 1005.3" fill="none" stroke="#0c0b0b" stroke-width="14"/>
<path d="M490 988L525 1024" stroke="#0c0b0b" stroke-width="7" fill="none"/>
<path d="M519 980L536 1014" stroke="#0c0b0b" stroke-width="7" fill="none"/>
<path d="M540 984L555 1000" stroke="#0c0b0b" stroke-width="7" fill="none"/>
<path d="M555 985L568 995" stroke="#0c0b0b" stroke-width="7" fill="none"/>
<path d="M285.0 828.0L305.0 845.0L292.0 858.0L318.0 868.0L300.0 882.0L322.0 892.0" fill="none" stroke="#0c0b0b" stroke-width="7"/>
<path d="M1017.4 205.0C1012.9 189.2 1002.1 181.7 1003.4 170.0C1004.7 158.3 1013.4 143.7 1025.4 135.0C1037.4 126.3 1058.7 118.0 1075.4 118.0C1092.1 118.0 1110.4 124.7 1125.4 135.0C1140.4 145.3 1154.6 162.5 1165.4 180.0C1176.2 197.5 1185.1 220.0 1190.4 240.0C1195.7 260.0 1198.2 282.5 1197.4 300.0C1196.6 317.5 1191.1 332.0 1185.4 345.0C1179.7 358.0 1168.1 380.5 1163.4 378.0C1158.7 375.5 1160.4 344.7 1157.4 330.0C1154.4 315.3 1151.6 301.3 1145.4 290.0C1139.2 278.7 1129.6 268.7 1120.4 262.0C1111.2 255.3 1093.7 243.7 1090.4 250.0C1087.1 256.3 1097.1 283.3 1100.4 300.0C1103.7 316.7 1111.2 334.2 1110.4 350.0C1109.6 365.8 1102.9 398.3 1095.4 395.0C1087.9 391.7 1076.2 351.7 1065.4 330.0C1054.6 308.3 1038.4 285.8 1030.4 265.0C1022.4 244.2 1021.9 220.8 1017.4 205.0Z" fill="#f6f6f8" stroke="#0c0b0b" stroke-width="14"/>
<path d="M1087.4 248.0C1088.7 231.3 1112.7 236.0 1125.4 240.0C1138.1 244.0 1157.4 256.2 1163.4 272.0C1169.4 287.8 1163.6 319.0 1161.4 335.0C1159.2 351.0 1154.7 373.8 1150.4 368.0C1146.1 362.2 1142.1 313.0 1135.4 300.0C1128.7 287.0 1113.4 283.3 1110.4 290.0C1107.4 296.7 1121.2 347.0 1117.4 340.0C1113.6 333.0 1086.1 264.7 1087.4 248.0Z" fill="#a9aaad" stroke="none"/>
<path d="M1015.4 405.0C1022.1 406.7 1042.9 414.5 1055.4 415.0C1067.9 415.5 1082.1 415.5 1090.4 408.0C1098.7 400.5 1102.9 376.3 1105.4 370.0" fill="none" stroke="#0c0b0b" stroke-width="8"/>
<path d="M1135.4 300.0C1137.1 306.7 1141.7 327.5 1145.4 340.0C1149.1 352.5 1155.4 369.2 1157.4 375.0" fill="none" stroke="#0c0b0b" stroke-width="7"/>
<ellipse cx="1295.4" cy="462" rx="33" ry="40" fill="#0c0b0b" transform="rotate(-15 1295.4 462)"/>
<circle cx="1301.4" cy="450" r="9" fill="#fff"/>
<path d="M1248.4 408.0C1252.1 408.7 1263.4 409.3 1270.4 412.0C1277.4 414.7 1287.1 422.0 1290.4 424.0" fill="none" stroke="#0c0b0b" stroke-width="7"/>
<path d="M1323.4 490.0C1325.4 491.3 1332.1 495.8 1335.4 498.0C1338.7 500.2 1342.1 502.2 1343.4 503.0" fill="none" stroke="#0c0b0b" stroke-width="7"/>
<path d="M1175.4 700.0C1189.6 688.0 1232.1 682.5 1255.4 680.0C1278.7 677.5 1298.7 680.8 1315.4 685.0C1332.1 689.2 1346.7 695.8 1355.4 705.0C1364.1 714.2 1369.1 728.8 1367.4 740.0C1365.7 751.2 1355.7 763.3 1345.4 772.0C1335.1 780.7 1320.4 791.2 1305.4 792.0C1290.4 792.8 1270.4 782.0 1255.4 777.0C1240.4 772.0 1229.6 766.2 1215.4 762.0C1201.2 757.8 1177.1 762.3 1170.4 752.0C1163.7 741.7 1161.2 712.0 1175.4 700.0Z" fill="#f6f6f8" stroke="#0c0b0b" stroke-width="13"/>
<path d="M1250.4 708.0C1261.2 709.7 1299.2 711.0 1315.4 718.0C1331.6 725.0 1342.1 744.7 1347.4 750.0" stroke="#0c0b0b" stroke-width="8" fill="none"/>
<path d="M1260.4 735.0C1267.9 736.7 1293.6 738.8 1305.4 745.0C1317.2 751.2 1327.1 767.5 1331.4 772.0" stroke="#0c0b0b" stroke-width="8" fill="none"/>
<path d="M1270.4 758.0C1274.6 760.0 1289.2 766.3 1295.4 770.0C1301.6 773.7 1305.4 778.3 1307.4 780.0" stroke="#0c0b0b" stroke-width="8" fill="none"/>
<path d="M1157 700L1193 712" stroke="#0c0b0b" stroke-width="6" fill="none"/>
<path d="M1153 722L1190 728" stroke="#0c0b0b" stroke-width="6" fill="none"/>
<path d="M1157 745L1190 742" stroke="#0c0b0b" stroke-width="6" fill="none"/>
<path d="M1170 688L1195 705" stroke="#0c0b0b" stroke-width="6" fill="none"/>
<path d="M520 165Q480.0 158.0 440 175" stroke="#0c0b0b" stroke-width="7" fill="none"/>
<path d="M505 185Q452.5 185.5 400 210" stroke="#0c0b0b" stroke-width="7" fill="none"/>
<path d="M485 205Q422.5 210.5 360 240" stroke="#0c0b0b" stroke-width="7" fill="none"/>
<path d="M292 505Q266.0 510.5 240 540" stroke="#0c0b0b" stroke-width="7" fill="none"/>
<path d="M282 550Q253.5 563.0 225 600" stroke="#0c0b0b" stroke-width="7" fill="none"/>
<path d="M272 600Q238.5 620.5 205 665" stroke="#0c0b0b" stroke-width="7" fill="none"/>
<path d="M1129.8 901.4C1131.6 899.1 1152.3 926.2 1158.5 926.8C1164.7 927.3 1163.7 911.6 1166.9 904.6C1170.1 897.6 1170.8 884.4 1177.7 885.0C1184.7 885.6 1201.4 909.3 1208.7 908.3C1216.0 907.3 1216.3 888.8 1221.5 879.0C1226.8 869.2 1231.9 854.7 1240.1 849.4C1248.3 844.2 1261.3 849.9 1270.7 847.5C1280.1 845.2 1288.2 839.0 1296.4 835.5C1304.6 832.0 1312.1 827.9 1319.8 826.5C1327.6 825.1 1335.9 826.6 1343.0 827.3C1350.1 828.1 1356.1 828.3 1362.4 831.3C1368.8 834.2 1373.3 843.3 1381.1 844.9C1388.8 846.6 1399.8 841.4 1408.8 841.0C1417.9 840.7 1427.3 841.0 1435.2 843.0C1443.2 845.0 1450.8 848.0 1456.5 853.0C1462.1 858.0 1465.9 866.0 1469.1 873.2C1472.4 880.4 1473.1 888.6 1475.8 896.2C1478.5 903.8 1484.6 911.1 1485.4 918.6C1486.3 926.2 1482.3 934.0 1480.8 941.5C1479.3 949.1 1478.3 956.6 1476.4 964.2C1474.5 971.7 1474.0 980.7 1469.5 986.9C1465.0 993.1 1456.7 995.7 1449.3 1001.4C1441.9 1007.0 1433.5 1014.3 1424.9 1020.7C1416.4 1027.1 1405.8 1035.3 1398.0 1039.7C1390.2 1044.2 1386.4 1046.5 1378.1 1047.2C1369.8 1047.8 1356.6 1043.1 1348.2 1043.6C1339.8 1044.0 1337.1 1049.6 1327.9 1049.7C1318.7 1049.9 1304.4 1046.2 1293.0 1044.3C1281.6 1042.3 1269.6 1039.9 1259.3 1038.0C1249.0 1036.2 1240.0 1035.5 1231.3 1033.0C1222.6 1030.4 1214.8 1026.8 1206.9 1022.7C1198.9 1018.7 1190.1 1014.9 1183.8 1008.8C1177.4 1002.7 1173.8 993.4 1168.7 986.1C1163.6 978.8 1156.9 972.7 1153.4 965.0C1149.8 957.4 1151.2 950.8 1147.3 940.2C1143.3 929.6 1127.9 903.6 1129.8 901.4Z" fill="#bbbcbf" stroke="#0c0b0b" stroke-width="14"/>
<path d="M1498.4 926.6C1502.2 916.0 1509.2 897.3 1514.7 889.1C1520.1 880.9 1524.7 880.8 1531.0 877.5C1537.3 874.1 1543.4 871.6 1552.3 869.0C1561.2 866.4 1573.0 863.0 1584.3 861.8C1595.7 860.5 1610.2 862.4 1620.4 861.3C1630.5 860.1 1636.1 854.3 1645.1 854.7C1654.1 855.0 1666.0 860.5 1674.5 863.6C1683.0 866.6 1687.7 870.1 1696.1 872.8C1704.6 875.6 1716.6 876.2 1725.4 879.8C1734.1 883.5 1740.3 889.2 1748.7 894.8C1757.2 900.4 1769.3 905.5 1776.2 913.3C1783.1 921.1 1787.6 932.9 1790.0 941.6C1792.4 950.3 1792.1 957.9 1790.7 965.5C1789.3 973.2 1784.2 980.2 1781.6 987.8C1779.0 995.3 1777.4 1003.2 1775.3 1011.0C1773.2 1018.7 1774.2 1030.6 1769.2 1034.3C1764.3 1038.0 1753.8 1034.3 1745.6 1033.3C1737.5 1032.3 1730.0 1030.9 1720.2 1028.6C1710.3 1026.2 1698.0 1021.1 1686.6 1019.1C1675.2 1017.0 1662.4 1017.2 1651.8 1016.1C1641.1 1014.9 1631.7 1015.4 1622.7 1012.1C1613.8 1008.8 1607.4 998.3 1597.9 996.5C1588.3 994.7 1575.7 1001.5 1565.4 1001.1C1555.1 1000.8 1547.3 998.2 1536.1 994.5C1524.9 990.8 1505.6 985.8 1498.3 978.8C1490.9 971.8 1492.0 961.3 1492.0 952.5C1492.0 943.8 1494.6 937.2 1498.4 926.6Z" fill="#bbbcbf" stroke="#0c0b0b" stroke-width="14"/>
<path d="M1788.3 1072.9C1786.5 1064.9 1789.9 1052.7 1793.5 1043.8C1797.1 1035.0 1801.3 1025.7 1809.7 1019.7C1818.0 1013.6 1835.3 1007.4 1843.7 1007.6C1852.1 1007.7 1854.6 1016.4 1859.8 1020.7C1865.1 1025.0 1870.9 1028.2 1875.3 1033.5C1879.6 1038.7 1884.3 1046.0 1886.1 1052.5C1887.8 1059.0 1890.1 1065.4 1885.9 1072.5C1881.6 1079.6 1870.2 1090.6 1860.5 1095.1C1850.9 1099.7 1837.5 1100.6 1828.2 1100.0C1818.9 1099.4 1811.4 1096.1 1804.8 1091.5C1798.2 1087.0 1790.2 1080.8 1788.3 1072.9Z" fill="#bbbcbf" stroke="#0c0b0b" stroke-width="13"/>
<ellipse cx="1170" cy="1056" rx="25" ry="14" fill="#f0f0f2" stroke="#0c0b0b" stroke-width="10" transform="rotate(-15 1170 1056)"/>
<ellipse cx="1503" cy="1057" rx="25" ry="14" fill="#f0f0f2" stroke="#0c0b0b" stroke-width="10" transform="rotate(25 1503 1057)"/>
<ellipse cx="1894" cy="1117" rx="17" ry="22" fill="#bbbcbf" stroke="#0c0b0b" stroke-width="10" transform="rotate(20 1894 1117)"/>
<ellipse cx="1043" cy="949" rx="22" ry="13" fill="#f0f0f2" stroke="#0c0b0b" stroke-width="10" transform="rotate(-10 1043 949)"/>
</g>
<line x1="629.4" y1="35.6" x2="629.4" y2="320" stroke="#1a1718" stroke-width="1.6" stroke-dasharray="7.4 3.7"/>
<line x1="629.4" y1="377.3" x2="629.4" y2="889.7" stroke="#1a1718" stroke-width="1.6" stroke-dasharray="7.4 3.7"/>
<line x1="629.4" y1="936" x2="629.4" y2="1141" stroke="#1a1718" stroke-width="1.6" stroke-dasharray="7.4 3.7"/>
<circle cx="433.8" cy="348.7" r="4" fill="#1a1718"/><circle cx="817" cy="348.7" r="4" fill="#1a1718"/>
<line x1="433.8" y1="348.7" x2="573.5" y2="348.7" stroke="#1a1718" stroke-width="1.9"/>
<line x1="677.5" y1="348.7" x2="817" y2="348.7" stroke="#1a1718" stroke-width="1.9"/>
<circle cx="459.7" cy="912.2" r="4" fill="#1a1718"/><circle cx="772.7" cy="912.2" r="4" fill="#1a1718"/>
<line x1="459.7" y1="912.2" x2="539.8" y2="912.2" stroke="#1a1718" stroke-width="1.9"/>
<line x1="706.6" y1="912.2" x2="772.7" y2="912.2" stroke="#1a1718" stroke-width="1.9"/>
<text transform="translate(579.40 357.60) scale(0.8314 1)" font-size="30.00" font-weight="normal" fill="#1a1718" >Nucleus</text>
<text transform="translate(550.97 920.60) scale(0.8556 1)" font-size="29.71" font-weight="normal" fill="#1a1718" >Mitochondria</text>
<text transform="translate(231.81 61.10) scale(0.8471 1)" font-size="38.28" font-weight="bold" fill="#1a1718"  stroke="#1a1718" stroke-width="1.01" stroke-linejoin="round">Old animal</text>
<text transform="translate(277.04 309.60) scale(0.8769 1)" font-size="29.73" font-weight="bold" fill="#1a1718"  stroke="#1a1718" stroke-width="0.78" stroke-linejoin="round">Aging</text>
<text transform="translate(273.68 441.20) scale(0.8652 1)" font-size="28.30" font-weight="bold" fill="#1a1718"  stroke="#1a1718" stroke-width="0.74" stroke-linejoin="round">PARPs</text>
<text transform="translate(284.36 575.00) scale(0.7674 1)" font-size="30.00" font-weight="normal" fill="#1a1718" >NAD</text>
<rect x="334.60" y="560.45" width="6.70" height="1.70" fill="#1a1718"/>
<rect x="337.10" y="557.90" width="1.70" height="6.80" fill="#1a1718"/>
<text transform="translate(270.55 719.90) scale(0.8500 1)" font-size="30.00" font-weight="normal" fill="#1a1718" >Sirtuins</text>
<text transform="translate(236.59 901.40) scale(0.8928 1)" font-size="29.02" font-weight="bold" fill="#1a1718"  stroke="#1a1718" stroke-width="0.76" stroke-linejoin="round">Damage and</text>
<text transform="translate(235.63 937.20) scale(0.9384 1)" font-size="28.02" font-weight="bold" fill="#1a1718"  stroke="#1a1718" stroke-width="0.77" stroke-linejoin="round">dysfunction</text>
<text transform="translate(206.24 1084.90) scale(0.8420 1)" font-size="38.42" font-weight="bold" fill="#1a1718"  stroke="#1a1718" stroke-width="1.02" stroke-linejoin="round">Stem cell loss</text>
<text transform="translate(208.87 1129.00) scale(0.8538 1)" font-size="38.12" font-weight="bold" fill="#1a1718"  stroke="#1a1718" stroke-width="1.00" stroke-linejoin="round">Tissue failure</text>
<rect x="309.75" y="318.30" width="7.70" height="43.70" fill="#1a1718"/>
<polygon points="300.4,360.4 326.8,360.4 313.6,408.1" fill="#1a1718"/>
<rect x="309.75" y="457.30" width="7.70" height="72.70" fill="#1a1718"/>
<rect x="292.00" y="528.00" width="43.00" height="8.00" fill="#1a1718"/>
<rect x="311.40" y="594.20" width="4.00" height="7.10" fill="#1a1718"/>
<rect x="311.40" y="608.40" width="4.00" height="15.30" fill="#1a1718"/>
<rect x="311.40" y="630.80" width="4.00" height="14.20" fill="#1a1718"/>
<rect x="311.40" y="650.50" width="4.00" height="2.50" fill="#1a1718"/>
<polygon points="304.8,652.1 322.0,652.1 313.4,685.2" fill="#1a1718"/>
<rect x="311.40" y="739.30" width="4.00" height="7.10" fill="#1a1718"/>
<rect x="311.40" y="754.50" width="4.00" height="16.30" fill="#1a1718"/>
<rect x="311.40" y="778.90" width="4.00" height="16.30" fill="#1a1718"/>
<rect x="311.40" y="803.30" width="4.00" height="16.20" fill="#1a1718"/>
<rect x="311.40" y="827.60" width="4.00" height="2.90" fill="#1a1718"/>
<polygon points="304.8,829.7 322.0,829.7 313.4,860.6" fill="#1a1718"/>
<rect x="311.40" y="969.70" width="4.00" height="7.10" fill="#1a1718"/>
<rect x="311.40" y="982.90" width="4.00" height="12.20" fill="#1a1718"/>
<rect x="311.40" y="1000.20" width="4.00" height="12.10" fill="#1a1718"/>
<rect x="311.40" y="1016.50" width="4.00" height="3.00" fill="#1a1718"/>
<polygon points="304.8,1018.8 322.0,1018.8 313.4,1050.8" fill="#1a1718"/>
<path d="M259 302 H211.3 V712.3 H259" fill="none" stroke="#1a1718" stroke-width="4" stroke-dasharray="14.7 8.15" stroke-dashoffset="5.1"/>
<rect x="258.00" y="281.20" width="2.00" height="4.00" fill="#1a1718"/>
<rect x="258.00" y="290.30" width="2.00" height="23.40" fill="#1a1718"/>
<rect x="258.00" y="318.80" width="2.00" height="5.00" fill="#1a1718"/>
<text transform="translate(806.63 60.90) scale(0.8455 1)" font-size="37.29" font-weight="bold" fill="#1a1718"  stroke="#1a1718" stroke-width="0.99" stroke-linejoin="round">Old animal and</text>
<text transform="translate(1045.99 60.90) scale(1.0167 1)" font-size="37.83" font-weight="bold" fill="#1a1718"  stroke="#1a1718" stroke-width="0.99" stroke-linejoin="round">NMN</text>
<text transform="translate(1056.19 197.00) scale(1.2005 1)" font-size="23.04" font-weight="normal" fill="#262324" >NMN-infused</text>
<text transform="translate(1102.88 225.60) scale(1.1753 1)" font-size="23.72" font-weight="normal" fill="#262324" >food</text>
<text transform="translate(916.50 309.60) scale(0.8888 1)" font-size="27.97" font-weight="normal" fill="#1a1718" >Aging</text>
<text transform="translate(1165.72 316.50) scale(1.0876 1)" font-size="34.42" font-weight="bold" fill="#1a1718"  stroke="#1a1718" stroke-width="0.90" stroke-linejoin="round">NMN</text>
<text transform="translate(911.58 441.20) scale(0.8140 1)" font-size="27.97" font-weight="normal" fill="#1a1718" >PARPs</text>
<text transform="translate(914.30 574.70) scale(0.8331 1)" font-size="29.16" font-weight="bold" fill="#1a1718"  stroke="#1a1718" stroke-width="0.76" stroke-linejoin="round">NAD</text>
<rect x="971.30" y="560.10" width="7.70" height="2.20" fill="#1a1718"/>
<rect x="974.05" y="557.40" width="2.20" height="7.60" fill="#1a1718"/>
<text transform="translate(897.81 719.80) scale(0.8555 1)" font-size="31.41" font-weight="bold" fill="#1a1718"  stroke="#1a1718" stroke-width="0.83" stroke-linejoin="round">Sirtuins</text>
<text transform="translate(888.79 868.30) scale(0.8855 1)" font-size="29.44" font-weight="bold" fill="#1a1718"  stroke="#1a1718" stroke-width="0.77" stroke-linejoin="round">Improved</text>
<text transform="translate(875.16 903.70) scale(0.9405 1)" font-size="28.29" font-weight="bold" fill="#1a1718"  stroke="#1a1718" stroke-width="0.78" stroke-linejoin="round">respiration,</text>
<text transform="translate(888.54 939.80) scale(0.8890 1)" font-size="28.87" font-weight="bold" fill="#1a1718"  stroke="#1a1718" stroke-width="0.75" stroke-linejoin="round">UPR, etc.</text>
<text transform="translate(769.72 1084.60) scale(0.8646 1)" font-size="38.14" font-weight="bold" fill="#1a1718"  stroke="#1a1718" stroke-width="1.01" stroke-linejoin="round">Stem cell maintenance</text>
<text transform="translate(796.57 1128.90) scale(0.8575 1)" font-size="37.69" font-weight="bold" fill="#1a1718"  stroke="#1a1718" stroke-width="0.98" stroke-linejoin="round">Tissue preservation</text>
<rect x="945.50" y="323.80" width="3.80" height="7.10" fill="#1a1718"/>
<rect x="945.50" y="336.00" width="3.80" height="13.20" fill="#1a1718"/>
<rect x="945.50" y="354.90" width="3.80" height="12.20" fill="#1a1718"/>
<rect x="945.50" y="373.00" width="3.80" height="3.00" fill="#1a1718"/>
<polygon points="938.8,375.2 956.0,375.2 947.4,406.5" fill="#1a1718"/>
<rect x="945.50" y="453.20" width="3.80" height="7.70" fill="#1a1718"/>
<rect x="945.50" y="467.40" width="3.80" height="13.20" fill="#1a1718"/>
<rect x="945.50" y="488.30" width="3.80" height="13.70" fill="#1a1718"/>
<rect x="945.50" y="509.10" width="3.80" height="13.20" fill="#1a1718"/>
<rect x="945.50" y="528.40" width="3.80" height="7.10" fill="#1a1718"/>
<rect x="926.00" y="534.10" width="5.30" height="2.00" fill="#1a1718"/>
<rect x="936.80" y="534.10" width="22.30" height="2.00" fill="#1a1718"/>
<rect x="963.80" y="534.10" width="5.10" height="2.00" fill="#1a1718"/>
<rect x="943.80" y="591.00" width="7.40" height="47.50" fill="#1a1718"/>
<polygon points="934.2,636.9 960.8,636.9 947.5,684.6" fill="#1a1718"/>
<rect x="943.80" y="735.80" width="7.40" height="53.20" fill="#1a1718"/>
<polygon points="934.2,787.4 960.8,787.4 947.5,835.2" fill="#1a1718"/>
<rect x="943.80" y="966.60" width="7.40" height="38.40" fill="#1a1718"/>
<polygon points="934.2,1003.2 960.8,1003.2 947.5,1050.9" fill="#1a1718"/>
<path d="M895 302.8 H847.1 V712.2 H887.6" fill="none" stroke="#1a1718" stroke-width="7.6" stroke-linejoin="miter"/>
<rect x="891.1" y="281.2" width="7.7" height="42.6" fill="#1a1718"/>
<path d="M1199.2 327.4 C1199.8 460.8 1143 524.4 1026 550" fill="none" stroke="#1a1718" stroke-width="4"/>
<polygon points="996.5,553 1027.3,541 1029.5,558.4" fill="#1a1718"/>
</svg>
</body></html>
